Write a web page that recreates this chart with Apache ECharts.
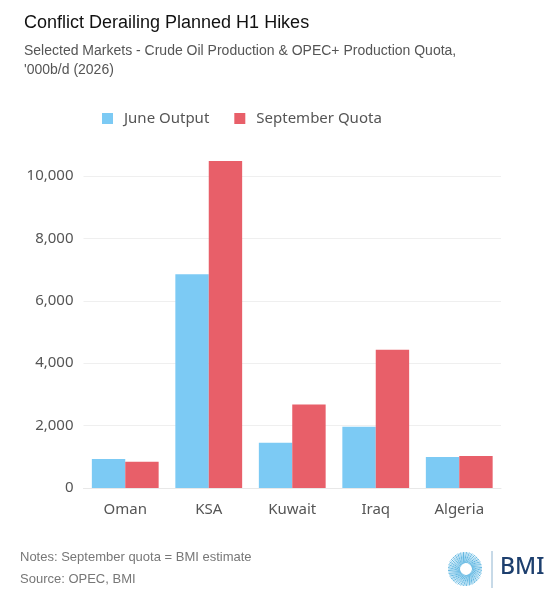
<!DOCTYPE html>
<html>
<head>
<meta charset="utf-8">
<script src="https://cdn.jsdelivr.net/npm/echarts@6/dist/echarts.min.js"></script>
<style>
  html, body { margin: 0; padding: 0; background: #fff; }
  #main { width: 560px; height: 600px; }
</style>
</head>
<body>
<div id="main"></div>
<script>
var categories = ['Oman', 'KSA', 'Kuwait', 'Iraq', 'Algeria'];
var juneOutput = [930, 6850, 1450, 1965, 990];
var septemberQuota = [843, 10478, 2680, 4430, 1022];
var yTicks = [0, 2000, 4000, 6000, 8000, 10000];

var myChart = echarts.init(document.getElementById('main'));

// logo rays (decoration only)
var rays = [];
for (var i = 0; i < 72; i++) {
    var a = i * Math.PI * 2 / 72;
    var a2 = a + 0.35;
    rays.push({
        type: 'line',
        shape: {
            x1: 466 + Math.cos(a) * 6, y1: 569 + Math.sin(a) * 6,
            x2: 465 + Math.cos(a2) * 17, y2: 569 + Math.sin(a2) * 17
        },
        style: { stroke: i % 2 ? '#4faedc' : '#93d0ee', lineWidth: 0.9 }
    });
}

myChart.setOption({
    animation: false,
    textStyle: { fontFamily: 'Noto Sans' },
    title: [{
        text: 'Conflict Derailing Planned H1 Hikes',
        left: 19,
        top: 9,
        textStyle: { fontFamily: 'Liberation Sans', fontSize: 18, fontWeight: 'normal', color: '#111' }
    }, {
        text: "Selected Markets - Crude Oil Production & OPEC+ Production Quota,\n'000b/d (2026)",
        left: 19,
        top: 37,
        textStyle: { fontFamily: 'Liberation Sans', fontSize: 14, fontWeight: 'normal', color: '#555', lineHeight: 19 }
    }],
    legend: {
        left: 97,
        top: 106,
        itemWidth: 11,
        itemHeight: 11,
        itemGap: 25,
        icon: 'rect',
        textStyle: { fontSize: 15, color: '#555', padding: [0, 0, 0, 6] },
        data: ['June Output', 'September Quota']
    },
    grid: { left: 83.5, right: 59, top: 113.6, bottom: 112 },
    xAxis: {
        type: 'category',
        data: categories,
        axisLine: { lineStyle: { color: '#e8e8e8' } },
        axisTick: { show: false },
        axisLabel: { fontSize: 15, color: '#555', margin: 14 }
    },
    yAxis: {
        type: 'value',
        min: 0,
        max: 12000,
        interval: 2000,
        axisLine: { show: false },
        axisTick: { show: false },
        axisLabel: {
            fontSize: 15,
            color: '#555',
            margin: 10,
            showMaxLabel: false,
            formatter: function (v) {
                return yTicks.indexOf(v) >= 0 ? v.toLocaleString('en-US') : '';
            }
        },
        splitLine: {
            lineStyle: {
                color: ['#efefef', '#efefef', '#efefef', '#efefef', '#efefef', '#efefef', 'rgba(0,0,0,0)']
            }
        }
    },
    series: [{
        name: 'June Output',
        type: 'bar',
        data: juneOutput,
        barGap: '0%',
        barCategoryGap: '20%',
        itemStyle: { color: '#7ccaf4' }
    }, {
        name: 'September Quota',
        type: 'bar',
        data: septemberQuota,
        itemStyle: { color: '#e85f69' }
    }],
    graphic: [{
        type: 'text',
        left: 20,
        top: 551,
        style: { text: 'Notes: September quota = BMI estimate', font: '13px "Liberation Sans"', fill: '#777' }
    }, {
        type: 'text',
        left: 20,
        top: 573,
        style: { text: 'Source: OPEC, BMI', font: '13px "Liberation Sans"', fill: '#777' }
    }, {
        type: 'group',
        children: rays
    }, {
        type: 'line',
        shape: { x1: 492, y1: 551, x2: 492, y2: 588 },
        style: { stroke: '#8fb4d0', lineWidth: 1 }
    }, {
        type: 'text',
        left: 500,
        top: 556,
        style: { text: 'BMI', font: '500 23px "Noto Sans"', fill: '#1d3f6e' }
    }]
});
</script>
</body>
</html>
